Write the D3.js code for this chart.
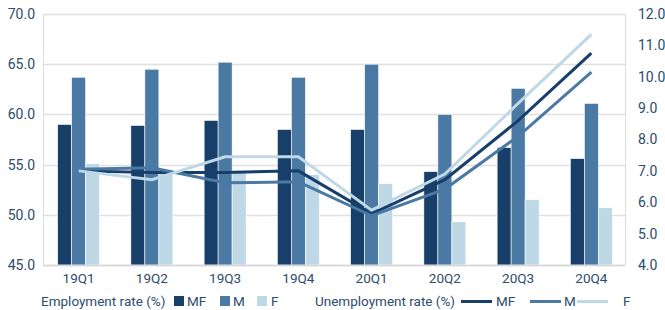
<!DOCTYPE html>
<meta charset="utf-8">
<script src="https://cdn.jsdelivr.net/npm/d3@7"></script>
<style>
body { margin: 0; background: #fff; }
text { font-family: Roboto, sans-serif; fill: #2d4c6e; }
</style>
<body>
<script>

// data
var quarters = ["19Q1", "19Q2", "19Q3", "19Q4", "20Q1", "20Q2", "20Q3", "20Q4"];
var empMF = [59.0, 58.9, 59.4, 58.5, 58.5, 54.3, 56.7, 55.6];
var empM  = [63.7, 64.5, 65.2, 63.7, 65.0, 60.0, 62.6, 61.1];
var empF  = [55.1, 54.1, 54.4, 54.0, 53.1, 49.3, 51.5, 50.7];
var unMF  = [7.0, 6.95, 6.95, 7.0, 5.63, 6.72, 8.6, 10.75];
var unM   = [7.05, 7.1, 6.62, 6.65, 5.57, 6.42, 8.1, 10.15];
var unF   = [7.0, 6.72, 7.45, 7.45, 5.75, 6.9, 9.15, 11.35];
var leftTicks = [45, 50, 55, 60, 65, 70];
var rightTicks = [4, 5, 6, 7, 8, 9, 10, 11, 12];

var colors = { MF: "#173f6a", M: "#4a79a3", F: "#bfd8e6" };

var width = 665, height = 310;
var plotLeft = 43, plotRight = 625, plotTop = 14, plotBottom = 265;

var svg = d3.select("body").append("svg")
    .attr("width", width)
    .attr("height", height);

var x = d3.scaleBand().domain(quarters).range([42, 628]);
var inner = d3.scaleBand().domain(["MF", "M", "F"]).range([0, 42]);
var yL = d3.scaleLinear().domain([45, 70]).range([plotBottom, plotTop]);
var yR = d3.scaleLinear().domain([4, 12]).range([plotBottom, plotTop]);

// grid
svg.append("g")
  .selectAll("line")
  .data(leftTicks)
  .enter().append("line")
    .attr("x1", plotLeft).attr("x2", plotRight)
    .attr("y1", function(d) { return Math.round(yL(d)) + 0.5; })
    .attr("y2", function(d) { return Math.round(yL(d)) + 0.5; })
    .style("stroke", "#e0e0e0")
    .style("stroke-width", 1.5);

svg.append("line")
    .attr("x1", plotLeft + 0.5).attr("x2", plotLeft + 0.5)
    .attr("y1", plotTop).attr("y2", plotBottom)
    .style("stroke", "#dcdcdc");
svg.append("line")
    .attr("x1", plotRight + 0.5).attr("x2", plotRight + 0.5)
    .attr("y1", plotTop).attr("y2", plotBottom)
    .style("stroke", "#dcdcdc");

// axes (labels only)
var axL = svg.append("g")
    .attr("transform", "translate(" + (plotLeft - 8) + ",0)")
    .call(d3.axisLeft(yL).tickValues(leftTicks).tickFormat(d3.format(".1f")).tickSize(0));
var axR = svg.append("g")
    .attr("transform", "translate(" + (plotRight + 13) + ",0)")
    .call(d3.axisRight(yR).tickValues(rightTicks).tickFormat(d3.format(".1f")).tickSize(0));
var axB = svg.append("g")
    .attr("transform", "translate(0," + (plotBottom + 5) + ")")
    .call(d3.axisBottom(x).tickSize(0));
[axL, axR, axB].forEach(function(a) {
  a.select(".domain").remove();
  a.selectAll("text").style("font-family", "Roboto, sans-serif")
    .style("font-size", "13.5px").style("fill", "#2d4c6e");
});
axL.selectAll("text").attr("x", 0).style("font-size", "14px");
axR.selectAll("text").attr("x", 0).style("font-size", "14px");

// bars
var series = [
  { key: "MF", values: empMF },
  { key: "M", values: empM },
  { key: "F", values: empF }
];
series.forEach(function(s) {
  svg.append("g")
    .selectAll("rect")
    .data(s.values)
    .enter().append("rect")
      .attr("x", function(d, i) { return x(quarters[i]) + x.bandwidth() / 2 - 21 + inner(s.key); })
      .attr("width", inner.bandwidth())
      .attr("y", function(d) { return yL(d); })
      .attr("height", function(d) { return plotBottom - yL(d); })
      .style("fill", colors[s.key])
      .style("stroke", "#fff")
      .style("stroke-width", 0.6);
});

svg.append("line")
    .attr("x1", plotLeft).attr("x2", plotRight)
    .attr("y1", plotBottom + 0.5).attr("y2", plotBottom + 0.5)
    .style("stroke", "#d6d6d6")
    .style("stroke-width", 1.5);

// lines
var line = d3.line()
    .x(function(d, i) { return x(quarters[i]) + x.bandwidth() / 2; })
    .y(function(d) { return yR(d); });

[{ key: "MF", values: unMF }, { key: "M", values: unM }, { key: "F", values: unF }]
  .forEach(function(s) {
    svg.append("path")
      .attr("d", line(s.values))
      .style("fill", "none")
      .style("stroke", colors[s.key])
      .style("stroke-width", 3);
  });

// legend
var ly = 301;
var lg = svg.append("g").style("font-size", "13.5px");
lg.append("text").attr("x", 41).attr("y", ly + 5).text("Employment rate (%)");
[["MF", 174, 187], ["M", 220, 233], ["F", 257, 271]].forEach(function(d) {
  lg.append("rect").attr("x", d[1]).attr("y", ly - 5).attr("width", 10).attr("height", 10)
    .style("fill", colors[d[0]]);
  lg.append("text").attr("x", d[2]).attr("y", ly + 5).text(d[0]);
});
lg.append("text").attr("x", 315).attr("y", ly + 5).text("Unemployment rate (%)");
[["MF", 461, 496], ["M", 530, 564], ["F", 577, 623]].forEach(function(d) {
  lg.append("line").attr("x1", d[1]).attr("x2", d[1] + 31).attr("y1", ly + 0.5).attr("y2", ly + 0.5)
    .style("stroke", colors[d[0]]).style("stroke-width", 3);
  lg.append("text").attr("x", d[2]).attr("y", ly + 5).text(d[0]);
});

</script>
</body>
</html>
